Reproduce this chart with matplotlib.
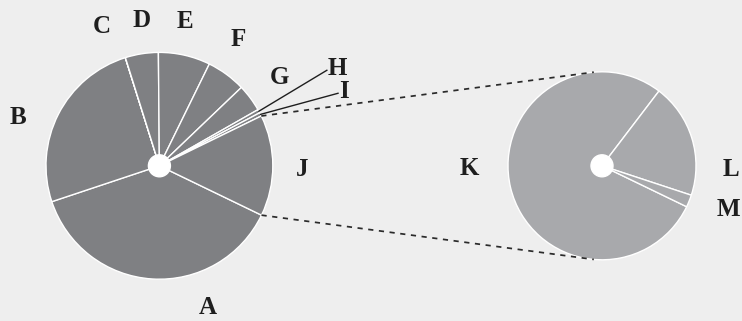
import numpy as np
import matplotlib.pyplot as plt
from matplotlib.patches import Circle

# left pie: share of each category (percent)
main_labels = ['A', 'B', 'C', 'D', 'E', 'F', 'G', 'H', 'I', 'J']
main_values = [37.7, 25.25, 0.02, 4.7, 7.4, 5.6, 3.9, 0.5, 0.5, 14.4]

# right pie: breakdown of slice J (percent)
sub_labels = ['K', 'L', 'M']
sub_values = [78.2, 19.7, 2.1]

# label placement (angle in degrees, distance in radii)
main_label_pos = {'A': (-71, 1.32), 'B': (161, 1.32), 'C': (112.5, 1.33),
                  'D': (97, 1.29), 'E': (80, 1.29), 'F': (58, 1.31),
                  'G': (36.4, 1.31), 'J': (-1.6, 1.26)}
leader_pos = {'H': (29.7, 1.70), 'I': (22.1, 1.70)}
sub_label_pos = {'K': (181, 1.41), 'L': (-1.5, 1.37), 'M': (-19, 1.42)}

bg = '#eeeeee'
text_col = '#1e1e1e'
font = dict(family='Liberation Serif', fontweight='bold', fontsize=18, color=text_col)

fig = plt.figure(figsize=(7.42, 3.21), dpi=100, facecolor=bg)
ax = fig.add_axes([0, 0, 1, 1])
ax.set_facecolor(bg)

c1, r1 = (159.4, 155.2), 113.4
c2, r2 = (602.0, 155.2), 94.0
start = -25.8

w1, _ = ax.pie(main_values, radius=r1, center=c1, startangle=start, counterclock=False,
               colors=['#7f8083'], wedgeprops=dict(edgecolor='white', linewidth=1))
w2, _ = ax.pie(sub_values, radius=r2, center=c2, startangle=start, counterclock=False,
               colors=['#a8a9ac'], wedgeprops=dict(edgecolor='white', linewidth=1))
ax.add_patch(Circle(c1, 11, color='white', zorder=5))
ax.add_patch(Circle(c2, 11, color='white', zorder=5))


def polar(c, r, ang):
    a = np.deg2rad(ang)
    return c[0] + r * np.cos(a), c[1] + r * np.sin(a)


# dashed connectors from slice J to the breakdown pie
wj = w1[main_labels.index('J')]
for ang_from, ang_to in [(wj.theta2, 95), (wj.theta1, -95)]:
    x0, y0 = polar(c1, r1, ang_from)
    x1, y1 = polar(c2, r2, ang_to)
    ax.plot([x0, x1], [y0, y1], color='#2a2a2a', lw=1.25, ls=(0, (3, 3.2)), zorder=1)

for lab, (ang, d) in main_label_pos.items():
    x, y = polar(c1, r1 * d, ang)
    ax.text(x, y, lab, ha='center', va='center', **font)

for lab, (ang, d) in leader_pos.items():
    w = w1[main_labels.index(lab)]
    mid = (w.theta1 + w.theta2) / 2
    x0, y0 = polar(c1, r1, mid)
    x1, y1 = polar(c1, r1 * d, ang)
    ax.plot([x0, x1], [y0, y1], color='#1e1e1e', lw=1, zorder=6)
    ax.text(x1 + 1, y1 + 2, lab, ha='left', va='center', **font)

for lab, (ang, d) in sub_label_pos.items():
    x, y = polar(c2, r2 * d, ang)
    ax.text(x, y, lab, ha='center', va='center', **font)

ax.set_xlim(0, 742)
ax.set_ylim(0, 321)
ax.axis('off')

plt.savefig('out.png', dpi=100, facecolor=bg)
